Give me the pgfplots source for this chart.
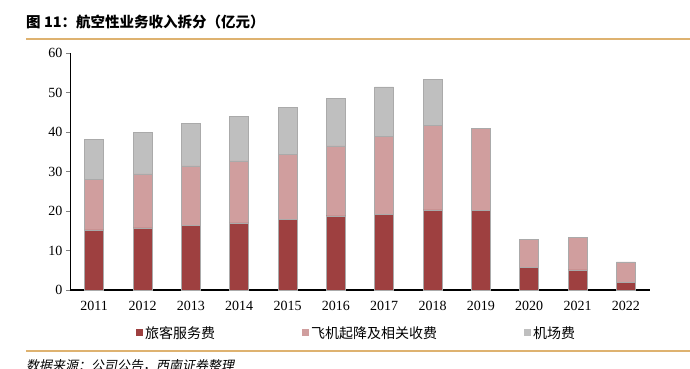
\documentclass[border=0pt]{standalone}
\usepackage{pgfplots}
\pgfplotsset{compat=1.18}
\usepackage{fontspec}
\setmainfont{Liberation Serif}
\newfontfamily\cjk{Noto Sans CJK SC}
\newfontfamily\cjkb{Noto Sans CJK SC Bold}
\newfontfamily\cjki[FakeSlant=0.2]{Noto Sans CJK SC}
\definecolor{cDark}{RGB}{158,64,64}
\definecolor{cPink}{RGB}{208,158,158}
\definecolor{cGray}{RGB}{191,191,191}
\definecolor{cLine}{RGB}{222,178,112}
\definecolor{cEdge}{RGB}{170,170,170}
\pgfplotstableread{
year dark pink gray
2011 15.2 12.9 10.0
2012 15.7 13.7 10.5
2013 16.4 15.0 10.8
2014 17.0 15.7 11.3
2015 17.8 16.6 11.9
2016 18.8 17.7 12.0
2017 19.2 19.7 12.5
2018 20.3 21.3 11.7
2019 20.1 20.9 0
2020 5.8 7.0 0
2021 5.1 8.3 0
2022 2.0 5.1 0
}\datatable
\begin{document}
\begin{tikzpicture}[x=1pt,y=1pt]
\path[use as bounding box] (0,0) rectangle (690,369);
\node[anchor=west,inner sep=0pt] at (26,347) {\fontsize{14.5}{16}\selectfont\bfseries\cjkb 图 11：航空性业务收入拆分（亿元）};
\draw[cLine,line width=1.6pt] (26,330) -- (690,330);
\draw[cLine,line width=1.6pt] (26,18) -- (690,18);
\node[anchor=west,inner sep=0pt] at (26,3) {\fontsize{13}{15}\selectfont\cjki 数据来源：公司公告，西南证券整理};
\begin{axis}[
  at={(70pt,79pt)}, anchor=south west,
  scale only axis, width=580pt, height=237pt,
  xmin=2010.5, xmax=2022.5, ymin=0, ymax=60,
  ybar stacked, bar width=19pt,
  axis lines=left, axis line style={-},
  x axis line style={line width=1.3pt},
  y axis line style={line width=0.8pt},
  xtick=data, xtick style={draw=none},
  ytick={0,10,...,60}, tick align=outside, major tick length=4pt,
  ytick style={line width=0.8pt},
  /pgf/number format/1000 sep={},
  /pgf/number format/assume math mode=true,
  tick label style={font=\fontsize{14}{16}\selectfont},
  xticklabel style={yshift=-4pt},
  legend style={at={(0.494,-0.135)}, anchor=north, draw=none, fill=none,
    legend columns=3, font=\fontsize{14}{16}\selectfont\cjk,
    /tikz/every even column/.append style={column sep=85pt}},
  legend image code/.code={\fill[#1,draw=none] (0pt,-3.5pt) rectangle (7pt,3.5pt);},
  clip=false,
]
\addplot[fill=cDark, draw=cEdge, line width=0.4pt] table[x=year,y=dark]{\datatable};
\addplot[fill=cPink, draw=cEdge, line width=0.4pt] table[x=year,y=pink]{\datatable};
\addplot[fill=cGray, draw=cEdge, line width=0.4pt] table[x=year,y=gray]{\datatable};
\legend{旅客服务费,飞机起降及相关收费,机场费}
\end{axis}
\end{tikzpicture}
\end{document}
